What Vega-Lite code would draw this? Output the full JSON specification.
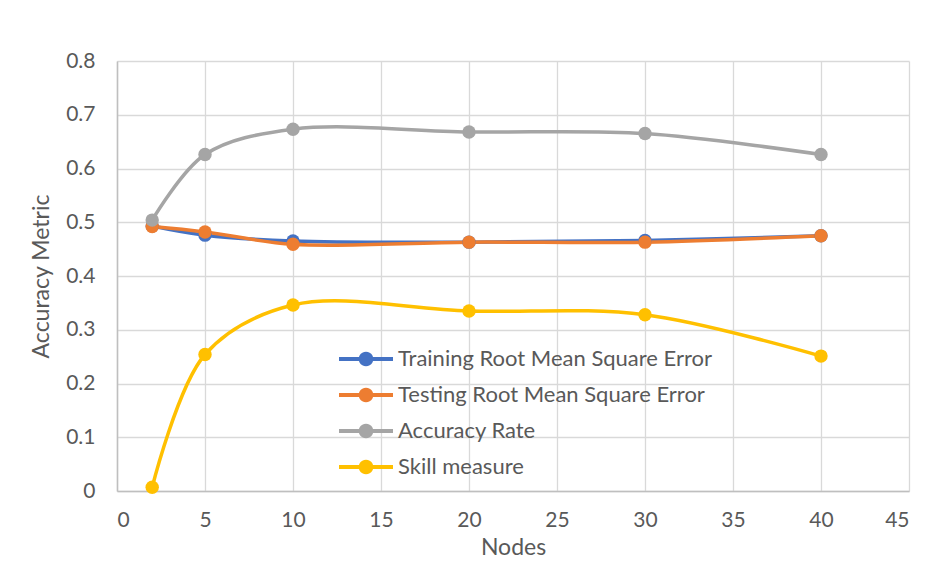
{
  "$schema": "https://vega.github.io/schema/vega-lite/v6.json",
  "autosize": "none",
  "width": 792,
  "height": 430,
  "padding": {"left": 117, "top": 61, "right": 16, "bottom": 74},
  "background": "white",
  "config": {
    "font": "Lato",
    "view": {"stroke": null},
    "axis": {
      "labelColor": "#595959",
      "titleColor": "#595959",
      "labelFont": "Lato",
      "titleFont": "Lato",
      "titleFontWeight": "normal",
      "gridColor": "#d9d9d9",
      "gridWidth": 1.3,
      "ticks": false
    }
  },
  "data": {
    "values": [
      {"nodes": 2, "value": 0.493, "series": "Training Root Mean Square Error"},
      {"nodes": 5, "value": 0.476, "series": "Training Root Mean Square Error"},
      {"nodes": 10, "value": 0.465, "series": "Training Root Mean Square Error"},
      {"nodes": 20, "value": 0.463, "series": "Training Root Mean Square Error"},
      {"nodes": 30, "value": 0.466, "series": "Training Root Mean Square Error"},
      {"nodes": 40, "value": 0.475, "series": "Training Root Mean Square Error"},
      {"nodes": 2, "value": 0.492, "series": "Testing Root Mean Square Error"},
      {"nodes": 5, "value": 0.482, "series": "Testing Root Mean Square Error"},
      {"nodes": 10, "value": 0.459, "series": "Testing Root Mean Square Error"},
      {"nodes": 20, "value": 0.463, "series": "Testing Root Mean Square Error"},
      {"nodes": 30, "value": 0.463, "series": "Testing Root Mean Square Error"},
      {"nodes": 40, "value": 0.475, "series": "Testing Root Mean Square Error"},
      {"nodes": 2, "value": 0.504, "series": "Accuracy Rate"},
      {"nodes": 5, "value": 0.626, "series": "Accuracy Rate"},
      {"nodes": 10, "value": 0.673, "series": "Accuracy Rate"},
      {"nodes": 20, "value": 0.668, "series": "Accuracy Rate"},
      {"nodes": 30, "value": 0.665, "series": "Accuracy Rate"},
      {"nodes": 40, "value": 0.626, "series": "Accuracy Rate"},
      {"nodes": 2, "value": 0.007, "series": "Skill measure"},
      {"nodes": 5, "value": 0.254, "series": "Skill measure"},
      {"nodes": 10, "value": 0.346, "series": "Skill measure"},
      {"nodes": 20, "value": 0.335, "series": "Skill measure"},
      {"nodes": 30, "value": 0.328, "series": "Skill measure"},
      {"nodes": 40, "value": 0.251, "series": "Skill measure"}
    ]
  },
  "encoding": {
    "x": {
      "field": "nodes",
      "type": "quantitative",
      "title": "Nodes",
      "scale": {"domain": [0, 45], "nice": false, "zero": false},
      "axis": {
        "values": [0, 5, 10, 15, 20, 25, 30, 35, 40, 45],
        "labelFontSize": 21,
        "titleFontSize": 23,
        "labelPadding": 18,
        "titlePadding": 6,
        "domainColor": "#bfbfbf",
        "domainWidth": 1.5
      }
    },
    "y": {
      "field": "value",
      "type": "quantitative",
      "title": "Accuracy Metric",
      "scale": {"domain": [0, 0.8], "nice": false},
      "axis": {
        "values": [0, 0.1, 0.2, 0.3, 0.4, 0.5, 0.6, 0.7, 0.8],
        "labelExpr": "datum.value == 0 ? '0' : format(datum.value, '.1f')",
        "labelFontSize": 21,
        "titleFontSize": 23,
        "labelPadding": 22,
        "titlePadding": 12,
        "domainColor": "#bfbfbf",
        "domainWidth": 1.5
      }
    },
    "color": {
      "field": "series",
      "type": "nominal",
      "scale": {
        "domain": ["Training Root Mean Square Error", "Testing Root Mean Square Error", "Accuracy Rate", "Skill measure"],
        "range": ["#4472C4", "#ED7D31", "#A5A5A5", "#FFC000"]
      },
      "legend": {
        "title": null,
        "orient": "none",
        "legendX": 222,
        "legendY": 280,
        "symbolType": "M-1,-0.075 L1,-0.075 L1,0.075 L-1,0.075 Z M0.27,0 L0.2608,0.0699 L0.2338,0.135 L0.1909,0.1909 L0.135,0.2338 L0.0699,0.2608 L0,0.27 L-0.0699,0.2608 L-0.135,0.2338 L-0.1909,0.1909 L-0.2338,0.135 L-0.2608,0.0699 L-0.27,0 L-0.2608,-0.0699 L-0.2338,-0.135 L-0.1909,-0.1909 L-0.135,-0.2338 L-0.0699,-0.2608 L0,-0.27 L0.0699,-0.2608 L0.135,-0.2338 L0.1909,-0.1909 L0.2338,-0.135 L0.2608,-0.0699 Z",
        "symbolSize": 2916,
        "symbolStrokeWidth": 0,
        "clipHeight": 36,
        "labelFontSize": 22,
        "labelColor": "#595959",
        "labelFont": "Lato",
        "labelOffset": 5,
        "rowPadding": 0,
        "labelLimit": 400
      }
    }
  },
  "layer": [
    {
      "mark": {"type": "line", "interpolate": "catmull-rom", "strokeWidth": 3.5}
    },
    {
      "mark": {"type": "point", "filled": true, "opacity": 1, "size": 180, "shape": "circle"}
    }
  ]
}
